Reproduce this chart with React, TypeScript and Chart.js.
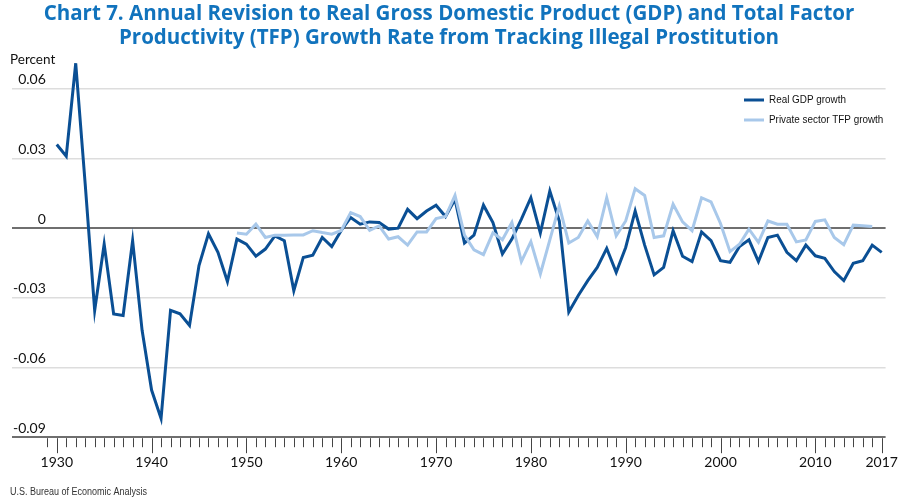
import React, { useEffect, useRef } from "react";
import { Chart, registerables } from "chart.js";

Chart.register(...registerables);

const titleLines = [
  "Chart 7. Annual Revision to Real Gross Domestic Product (GDP) and Total Factor",
  "Productivity (TFP) Growth Rate from Tracking Illegal Prostitution",
];
const yAxisLabel = "Percent";
const sourceText = "U.S. Bureau of Economic Analysis";
const seriesNames = ["Real GDP growth", "Private sector TFP growth"];

const gdpStartYear = 1930;
const tfpStartYear = 1949;

// 1930 - 2017
const gdpGrowth = [
  0.036, 0.031, 0.071, 0.019, -0.0354, -0.0069, -0.0369, -0.0376, -0.0054, -0.044,
  -0.0697, -0.0819, -0.0354, -0.0369, -0.0419, -0.0161, -0.0024, -0.0104, -0.023, -0.0047,
  -0.0069, -0.0121, -0.009, -0.0033, -0.0054, -0.0269, -0.0126, -0.0116, -0.004, -0.0079,
  -0.001, 0.0046, 0.0017, 0.0027, 0.0024, -0.0004, 0.0, 0.0081, 0.0041, 0.0074,
  0.0099, 0.005, 0.0124, -0.0064, -0.003, 0.0099, 0.0024, -0.0111, -0.0047, 0.0039,
  0.0131, -0.0021, 0.016, 0.0031, -0.0361, -0.029, -0.0226, -0.0169, -0.0087, -0.019,
  -0.0083, 0.0074, -0.0073, -0.0201, -0.0169, -0.0011, -0.0121, -0.0144, -0.0016, -0.0054,
  -0.014, -0.0147, -0.0079, -0.005, -0.0144, -0.004, -0.003, -0.0104, -0.014, -0.0073,
  -0.0119, -0.013, -0.0187, -0.0226, -0.0151, -0.014, -0.0073, -0.0104,
];

// 1949 - 2016
const tfpGrowth = [
  -0.0021, -0.0026, 0.0017, -0.004, -0.003, -0.003, -0.0029, -0.0029, -0.0011, -0.0019,
  -0.0026, -0.001, 0.0067, 0.005, -0.0009, 0.001, -0.0047, -0.0037, -0.0073, -0.0016,
  -0.0016, 0.0041, 0.005, 0.0141, -0.003, -0.0093, -0.0114, -0.002, -0.005, 0.0025,
  -0.0144, -0.0058, -0.0197, -0.005, 0.0096, -0.0064, -0.004, 0.0031, -0.0036, 0.0131,
  -0.0033, 0.0031, 0.017, 0.0141, -0.004, -0.0033, 0.0103, 0.0027, -0.0011, 0.0131,
  0.0113, 0.002, -0.0101, -0.0069, -0.0004, -0.0061, 0.0031, 0.0017, 0.0017, -0.0059,
  -0.0051, 0.0029, 0.0036, -0.004, -0.0071, 0.0013, 0.001, 0.0007,
];

const xTickYears = [1930, 1940, 1950, 1960, 1970, 1980, 1990, 2000, 2010, 2017];
const minorTickFirstYear = 1929;
const minorTickLastYear = 2017;
const yTickValues = [-0.09, -0.06, -0.03, 0, 0.03, 0.06];

const gdpColor = "#0a4f94";
const tfpColor = "#a8c8ea";
const titleColor = "#1173bd";
const narrowFont = '"Liberation Sans", "Arial", sans-serif';

const decorPlugin = {
  id: "decor",
  afterDraw(chart: any) {
    const { ctx, chartArea } = chart;
    const xs = chart.scales.x;
    ctx.save();
    // x tick marks
    ctx.strokeStyle = "#444";
    ctx.lineWidth = 1;
    for (let yr = minorTickFirstYear; yr <= minorTickLastYear; yr++) {
      const px = Math.round(xs.getPixelForValue(yr)) + 0.5;
      const major = xTickYears.includes(yr);
      const len = major ? 15 : 9;
      ctx.beginPath();
      ctx.moveTo(px, chartArea.bottom + 1);
      ctx.lineTo(px, chartArea.bottom + 1 + len);
      ctx.stroke();
    }
    // Percent label
    ctx.fillStyle = "#111";
    ctx.font = '13.5px "Lato", sans-serif';
    ctx.textAlign = "left";
    ctx.textBaseline = "middle";
    ctx.fillText(yAxisLabel, 10, 60);
    // source (condensed by horizontal scaling)
    ctx.save();
    ctx.translate(10, 492);
    ctx.scale(0.9, 1);
    ctx.fillStyle = "#333";
    ctx.font = "10px " + narrowFont;
    ctx.fillText(sourceText, 0, 0);
    ctx.restore();
    // legend
    const colors = [gdpColor, tfpColor];
    seriesNames.forEach((name, i) => {
      const ly = 100 + i * 20;
      ctx.strokeStyle = colors[i];
      ctx.lineWidth = 3;
      ctx.beginPath();
      ctx.moveTo(744, ly);
      ctx.lineTo(764, ly);
      ctx.stroke();
      ctx.save();
      ctx.translate(769, ly);
      ctx.scale(0.86, 1);
      ctx.fillStyle = "#111";
      ctx.font = "11.5px " + narrowFont;
      ctx.fillText(name, 0, 0);
      ctx.restore();
    });
    ctx.restore();
  },
};

export default function App() {
  const ref = useRef<HTMLCanvasElement | null>(null);

  useEffect(() => {
    if (!ref.current) return;
    const gdpData = gdpGrowth.map((v, i) => ({ x: gdpStartYear + i, y: v }));
    const tfpData = tfpGrowth.map((v, i) => ({ x: tfpStartYear + i, y: v }));
    const isDark = (v: number) => Math.abs(v) < 1e-9 || Math.abs(v + 0.09) < 1e-9;

    const chart = new Chart(ref.current, {
      type: "line",
      data: {
        datasets: [
          {
            label: seriesNames[1],
            data: tfpData,
            borderColor: tfpColor,
            borderWidth: 3,
            pointRadius: 0,
            tension: 0,
          },
          {
            label: seriesNames[0],
            data: gdpData,
            borderColor: gdpColor,
            borderWidth: 3,
            pointRadius: 0,
            tension: 0,
          },
        ],
      },
      options: {
        responsive: false,
        animation: false,
        devicePixelRatio: 1,
        layout: { padding: { left: 10, right: 12, top: 0, bottom: 27 } },
        plugins: {
          legend: { display: false },
          tooltip: { enabled: false },
          title: {
            display: true,
            text: titleLines,
            color: titleColor,
            font: { family: "Open Sans", size: 20.5, weight: "bold", lineHeight: 1.17 },
            padding: { top: 2, bottom: 4 },
          },
        },
        scales: {
          x: {
            type: "linear",
            min: 1925.28,
            max: 2017.41,
            afterBuildTicks: (scale: any) => {
              scale.ticks = xTickYears.map((v) => ({ value: v }));
            },
            grid: {
              display: true,
              drawOnChartArea: false,
              drawTicks: true,
              tickLength: 15,
              color: "rgba(0,0,0,0)",
              tickColor: "rgba(0,0,0,0)",
            },
            border: { display: false },
            ticks: {
              autoSkip: false,
              maxRotation: 0,
              padding: 2,
              color: "#111",
              font: { family: "Lato", size: 14 },
              callback: (v: any) => String(v),
            },
          },
          y: {
            min: -0.09,
            max: 0.075,
            afterBuildTicks: (scale: any) => {
              scale.ticks = yTickValues.map((v) => ({ value: v }));
            },
            border: { display: false },
            grid: {
              drawTicks: false,
              color: (c: any) => (c.tick && isDark(c.tick.value) ? "#6f6f6f" : "#dddddd"),
              lineWidth: (c: any) => (c.tick && isDark(c.tick.value) ? 2 : 1.6),
            },
            ticks: {
              mirror: true,
              crossAlign: "far",
              padding: 1,
              labelOffset: -9,
              color: "#111",
              font: { family: "Lato", size: 14 },
              callback: (v: any) => (Math.abs(v) < 1e-9 ? "0" : Number(v).toFixed(2)),
            },
          },
        },
      },
      plugins: [decorPlugin],
    } as any);

    return () => chart.destroy();
  }, []);

  return (
    <div style={{ position: "fixed", left: 0, top: 0, width: 900, height: 500, background: "#fff" }}>
      <canvas ref={ref} width={900} height={500} />
    </div>
  );
}
